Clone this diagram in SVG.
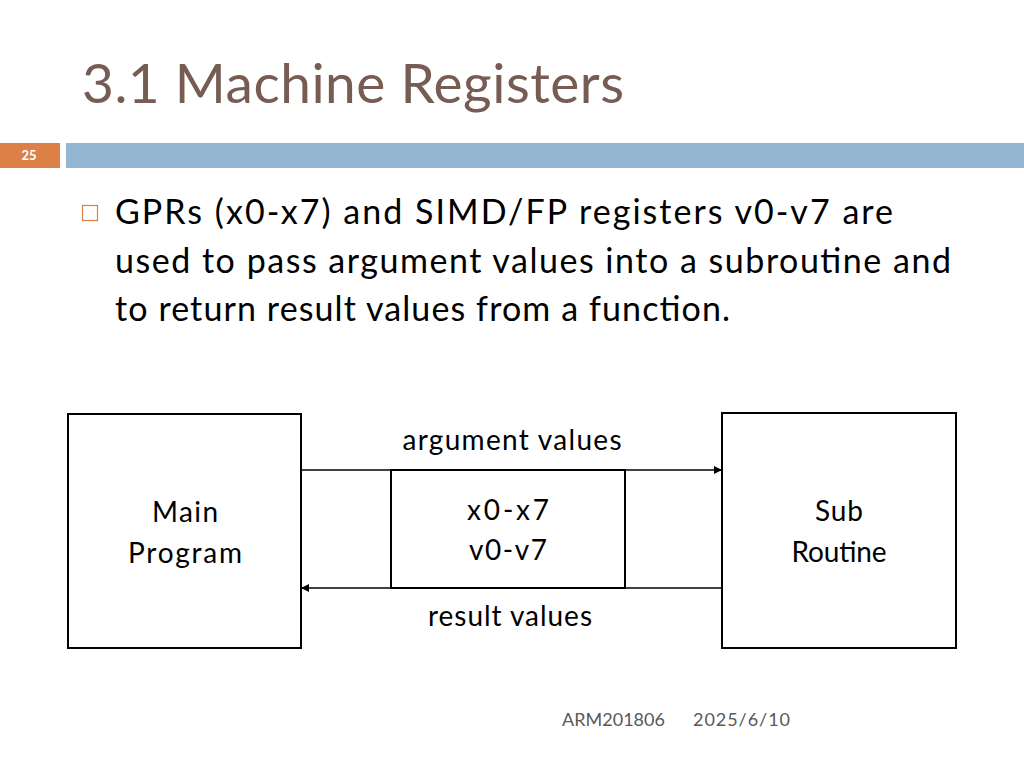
<svg xmlns="http://www.w3.org/2000/svg" width="1024" height="768" viewBox="0 0 1024 768">
<defs>
<style>
.t{font-family:Lato,"Liberation Sans",sans-serif;}
.box{fill:#fff;stroke:#000;stroke-width:2;}
.lbl{font-family:Lato,"Liberation Sans",sans-serif;font-size:28px;fill:#000;text-anchor:middle;}
.ln{stroke:#000;stroke-width:1.5;fill:none;}
</style>
<marker id="ah" viewBox="0 0 10 10" refX="10" refY="5" markerWidth="8" markerHeight="8" markerUnits="userSpaceOnUse" orient="auto">
<path d="M0,0 L10,5 L0,10 z" fill="#000"/>
</marker>
</defs>
<rect width="1024" height="768" fill="#fff"/>
<text class="t" x="82" y="103" font-size="55" fill="#765c53" textLength="542" lengthAdjust="spacing">3.1 Machine Registers</text>
<rect x="0" y="143" width="60" height="25" fill="#dd8047"/>
<text class="t" x="29" y="160" font-size="13" font-weight="bold" fill="#fff" text-anchor="middle">25</text>
<rect x="66" y="143" width="958" height="25" fill="#94b6d2"/>
<rect x="82.5" y="205.5" width="15" height="15" fill="none" stroke="#dd8047" stroke-width="1.2"/>
<g class="t" font-size="34" fill="#000">
<text x="115" y="224" textLength="778" lengthAdjust="spacing">GPRs (x0-x7) and SIMD/FP registers v0-v7 are</text>
<text x="115" y="273" textLength="836" lengthAdjust="spacing">used to pass argument values into a subroutine and</text>
<text x="115" y="321" textLength="615" lengthAdjust="spacing">to return result values from a function.</text>
</g>
<g id="connectors">
<line class="ln" x1="301" y1="470" x2="722" y2="470" marker-end="url(#ah)"/>
<line class="ln" x1="722" y1="588" x2="301" y2="588" marker-end="url(#ah)"/>
<text class="lbl" x="512" y="450" textLength="219" lengthAdjust="spacing">argument values</text>
<text class="lbl" x="510" y="626" textLength="164" lengthAdjust="spacing">result values</text>
</g>
<g id="main">
<rect class="box" x="68" y="414" width="233" height="234"/>
<text class="lbl" x="185" y="522" textLength="66" lengthAdjust="spacing">Main</text>
<text class="lbl" x="185" y="563" textLength="114" lengthAdjust="spacing">Program</text>
</g>
<g id="regs">
<rect class="box" x="391" y="470" width="234" height="118"/>
<text class="lbl" x="508" y="520" textLength="82" lengthAdjust="spacing">x0-x7</text>
<text class="lbl" x="508" y="560" textLength="78" lengthAdjust="spacing">v0-v7</text>
</g>
<g id="sub">
<rect class="box" x="722" y="413" width="234" height="235"/>
<text class="lbl" x="839" y="521" textLength="48" lengthAdjust="spacing">Sub</text>
<text class="lbl" x="839" y="562" textLength="95" lengthAdjust="spacing">Routine</text>
</g>
<g class="t" font-size="18" fill="#595959">
<text x="562" y="726" textLength="103" lengthAdjust="spacing">ARM201806</text>
<text x="693" y="726" textLength="97" lengthAdjust="spacing">2025/6/10</text>
</g>
</svg>
